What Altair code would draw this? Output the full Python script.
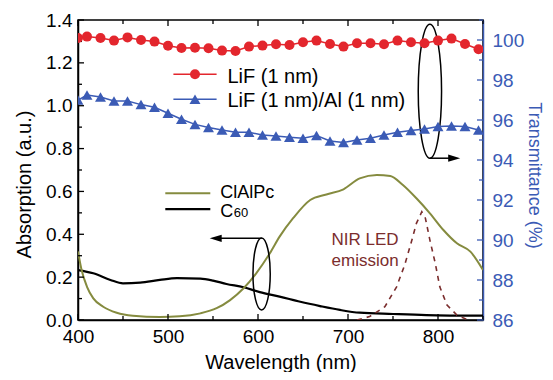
import altair as alt
import pandas as pd

FONT = "Liberation Sans"
RED = "#e3262d"
BLUE = "#3b5bb5"
OLIVE = "#858b3f"
NIRC = "#7b2d2d"

# ---- Transmittance series (right axis, %) ----
t_nm = [400, 410, 425, 440, 455, 470, 485, 500, 515, 530, 545, 560, 575, 590, 605,
        620, 635, 650, 665, 680, 695, 710, 725, 740, 755, 770, 785, 800, 815, 830, 845]
lif_T = [100.10, 100.17, 100.10, 99.97, 100.13, 100.00, 99.92, 99.71, 99.60, 99.61, 99.59,
         99.47, 99.45, 99.67, 99.72, 99.79, 99.75, 99.89, 99.97, 99.80, 99.67, 99.84, 99.84,
         99.79, 99.97, 99.89, 99.84, 99.97, 100.07, 99.80, 99.54]
lifal_T = [97.00, 97.25, 97.15, 96.95, 96.95, 96.77, 96.64, 96.34, 96.04, 95.78, 95.62,
           95.50, 95.39, 95.39, 95.25, 95.20, 95.14, 95.09, 95.22, 94.95, 94.87, 95.00, 95.09,
           95.25, 95.39, 95.47, 95.55, 95.67, 95.70, 95.67, 95.50]

# ---- Absorption series (left axis) ----
clalpc_nm = [400, 404, 410, 417, 428, 443, 461, 491, 513, 536, 554, 569, 584, 598, 613,
             624, 639, 658, 676, 695, 713, 732, 747, 761, 776, 791, 806, 821, 836, 850]
clalpc_A = [0.32, 0.233, 0.155, 0.101, 0.062, 0.034, 0.020, 0.014, 0.017, 0.031, 0.055,
            0.093, 0.148, 0.218, 0.31, 0.389, 0.475, 0.56, 0.586, 0.61, 0.661, 0.677, 0.672,
            0.63, 0.568, 0.498, 0.42, 0.358, 0.319, 0.233]
c60_nm = [400, 417, 436, 450, 469, 491, 510, 536, 550, 565, 584, 602, 624, 647, 669, 691,
          713, 750, 787, 850]
c60_A = [0.233, 0.218, 0.187, 0.171, 0.174, 0.187, 0.195, 0.193, 0.184, 0.168, 0.153, 0.13,
         0.109, 0.085, 0.065, 0.047, 0.034, 0.028, 0.023, 0.020]
nir_nm = [710, 724, 741, 754, 763, 771, 776, 782, 786, 791, 797, 802, 810, 821, 832]
nir_A = [0.0, 0.016, 0.062, 0.155, 0.257, 0.373, 0.451, 0.505, 0.475, 0.373, 0.264, 0.155,
         0.07, 0.023, 0.003]

# ---- tick values ----
x_major = [400, 500, 600, 700, 800]
x_minor = [450, 550, 650, 750, 850]
yl_major = [0.0, 0.2, 0.4, 0.6, 0.8, 1.0, 1.2, 1.4]
yl_minor = [0.1, 0.3, 0.5, 0.7, 0.9, 1.1, 1.3]
yr_major = [86, 88, 90, 92, 94, 96, 98, 100]
yr_minor = [87, 89, 91, 93, 95, 97, 99, 101]

# ---- legend / annotation anchors (data units) ----
leg1_labels = ["LiF (1 nm)", "LiF (1 nm)/Al (1 nm)"]
leg1_line_nm = [506, 554]
leg1_mark_nm = 530
leg1_line_A = [1.1466, 1.030]
leg1_text_nm = 566
leg1_text_A = [1.1045, 0.9955]
leg2_line_nm = [497, 547]
leg2_line_A = [0.591, 0.517]
leg2_text_nm = 558
leg2_text_A = 0.570
c60_text_A = 0.480
c60_sub_nm = 573
nir_label = ["NIR LED", "emission"]
nir_label_nm = 719
nir_label_A = [0.35, 0.252]
ell_nm = [791, 604]
ell_A = [1.068, 0.215]
arrow_from_nm = [791, 604]
arrow_to_nm = [818, 553]
arrow_A = [0.755, 0.381]

XS = alt.Scale(domain=[400, 850], nice=False)
YL = alt.Scale(domain=[0, 1.4], nice=False)
YR = alt.Scale(domain=[86, 101], nice=False)

X_AXIS = alt.Axis(values=x_major, ticks=False, grid=False, labelFlush=False,
                  labelFont=FONT, labelFontSize=19, labelColor="black", labelPadding=7,
                  domainColor="black", domainWidth=1.5,
                  title="Wavelength (nm)", titleFont=FONT, titleFontSize=20,
                  titleFontWeight="normal", titleColor="black", titleY=48,
                  titleBaseline="alphabetic")
YL_AXIS = alt.Axis(values=yl_major, format=".1f", ticks=False, grid=False,
                   labelFont=FONT, labelFontSize=19, labelColor="black", labelPadding=6,
                   domainColor="black", domainWidth=1.5,
                   title="Absorption (a.u.)", titleFont=FONT, titleFontSize=20,
                   titleFontWeight="normal", titleColor="black", titleX=-54, titleY=164,
                   titleBaseline="middle", titleAngle=270)
YR_AXIS = alt.Axis(values=yr_major, format="d", ticks=False, grid=False,
                   orient="right",
                   labelFont=FONT, labelFontSize=19, labelColor=BLUE, labelPadding=9,
                   domainColor=BLUE, domainWidth=1.5,
                   title="Transmittance (%)", titleFont=FONT, titleFontSize=18,
                   titleFontWeight="normal", titleColor=BLUE, titleX=50, titleY=155,
                   titleBaseline="middle", titleAngle=90)


def xe(field="nm"):
    return alt.X(f"{field}:Q", scale=XS, axis=X_AXIS)


def yl(field="A"):
    return alt.Y(f"{field}:Q", scale=YL, axis=YL_AXIS)


def yr(field="T"):
    return alt.Y(f"{field}:Q", scale=YR, axis=YR_AXIS)


df_c60 = pd.DataFrame({"nm": c60_nm, "A": c60_A})
df_cl = pd.DataFrame({"nm": clalpc_nm, "A": clalpc_A})
df_nir = pd.DataFrame({"nm": nir_nm, "A": nir_A})
df_lif = pd.DataFrame({"nm": t_nm, "T": lif_T})
df_lifal = pd.DataFrame({"nm": t_nm, "T": lifal_T})

c60_line = alt.Chart(df_c60).mark_line(color="black", strokeWidth=2.2, interpolate="monotone",
                                       clip=True).encode(x=xe(), y=yl())
cl_line = alt.Chart(df_cl).mark_line(color=OLIVE, strokeWidth=2, interpolate="monotone",
                                     clip=True).encode(x=xe(), y=yl())
nir_line = alt.Chart(df_nir).mark_line(color=NIRC, strokeWidth=1.6, strokeDash=[5, 5],
                                       clip=True).encode(x=xe(), y=yl())

# ticks (inward)
df_xmaj = pd.DataFrame({"nm": x_major})
df_xmin = pd.DataFrame({"nm": x_minor})
xt = []
for d, ln in [(df_xmaj, 6), (df_xmin, 4)]:
    xt.append(alt.Chart(d).mark_rule(color="black", strokeWidth=1.3).encode(
        x=xe(), y=alt.value(300), y2=alt.value(300 - ln)))
    xt.append(alt.Chart(d).mark_rule(color="black", strokeWidth=1.3).encode(
        x=xe(), y=alt.value(0), y2=alt.value(ln)))
ylt = []
for vals, ln in [(yl_major, 6), (yl_minor, 4)]:
    ylt.append(alt.Chart(pd.DataFrame({"A": vals})).mark_rule(color="black", strokeWidth=1.3).encode(
        y=yl(), x=alt.value(0), x2=alt.value(ln)))
yrt = []
for vals, ln in [(yr_major, 6), (yr_minor, 4)]:
    yrt.append(alt.Chart(pd.DataFrame({"T": vals})).mark_rule(color=BLUE, strokeWidth=1.3).encode(
        y=yr(), x=alt.value(405), x2=alt.value(405 - ln)))

# legend 1 (transmittance)
df_leg1 = pd.DataFrame({"nm": [leg1_line_nm[0]] * 2, "nm2": [leg1_line_nm[1]] * 2,
                        "A": leg1_line_A})
leg1_red_rule = alt.Chart(df_leg1.iloc[[0]]).mark_rule(color=RED, strokeWidth=1.5).encode(
    x=xe(), x2="nm2:Q", y=yl())
leg1_blue_rule = alt.Chart(df_leg1.iloc[[1]]).mark_rule(color=BLUE, strokeWidth=1.5).encode(
    x=xe(), x2="nm2:Q", y=yl())
df_leg1m = pd.DataFrame({"nm": [leg1_mark_nm] * 2, "A": leg1_line_A})
leg1_red_pt = alt.Chart(df_leg1m.iloc[[0]]).mark_point(shape="circle", filled=True, size=100,
                                                      color=RED, opacity=1).encode(x=xe(), y=yl())
leg1_blue_pt = alt.Chart(df_leg1m.iloc[[1]]).mark_point(shape="triangle-up", filled=True, size=120,
                                                       color=BLUE, opacity=1).encode(x=xe(), y=yl())
df_leg1t = pd.DataFrame({"nm": [leg1_text_nm] * 2, "A": leg1_text_A, "label": leg1_labels})
leg1_text = alt.Chart(df_leg1t).mark_text(font=FONT, fontSize=20, align="left",
                                          baseline="alphabetic", color="black").encode(
    x=xe(), y=yl(), text="label:N")

# legend 2 (absorption)
df_leg2 = pd.DataFrame({"nm": [leg2_line_nm[0]] * 2, "nm2": [leg2_line_nm[1]] * 2, "A": leg2_line_A})
leg2_olive = alt.Chart(df_leg2.iloc[[0]]).mark_rule(color=OLIVE, strokeWidth=2).encode(
    x=xe(), x2="nm2:Q", y=yl())
leg2_black = alt.Chart(df_leg2.iloc[[1]]).mark_rule(color="black", strokeWidth=2.2).encode(
    x=xe(), x2="nm2:Q", y=yl())
df_leg2t = pd.DataFrame({"nm": [leg2_text_nm, leg2_text_nm], "A": [leg2_text_A, c60_text_A],
                         "label": ["ClAlPc", "C"]})
leg2_text = alt.Chart(df_leg2t).mark_text(font=FONT, fontSize=18, align="left",
                                          baseline="alphabetic", color="black").encode(
    x=xe(), y=yl(), text="label:N")
df_sub = pd.DataFrame({"nm": [c60_sub_nm], "A": [c60_text_A], "label": ["60"]})
leg2_sub = alt.Chart(df_sub).mark_text(font=FONT, fontSize=13, align="left",
                                       baseline="alphabetic", color="black").encode(
    x=xe(), y=yl(), text="label:N")

# NIR label
df_nirt = pd.DataFrame({"nm": [nir_label_nm] * 2, "A": nir_label_A, "label": nir_label})
nir_text = alt.Chart(df_nirt).mark_text(font=FONT, fontSize=17, align="center",
                                        baseline="alphabetic", color=NIRC).encode(
    x=xe(), y=yl(), text="label:N")


def ellipse_path(rx):
    k = 0.5523
    a = round(rx * k, 4)
    return (f"M{rx},0 C{rx},{k} {a},1 0,1 C{-a},1 {-rx},{k} {-rx},0 "
            f"C{-rx},{-k} {-a},-1 0,-1 C{a},-1 {rx},{-k} {rx},0 Z")


ell1 = alt.Chart(pd.DataFrame({"nm": [ell_nm[0]], "A": [ell_A[0]]})).mark_point(
    shape=ellipse_path(0.174), size=134 * 134, filled=False, color="black", strokeWidth=1.5,
    opacity=1).encode(x=xe(), y=yl())
ell2 = alt.Chart(pd.DataFrame({"nm": [ell_nm[1]], "A": [ell_A[1]]})).mark_point(
    shape=ellipse_path(0.24), size=72 * 72, filled=False, color="black", strokeWidth=1.5,
    opacity=1).encode(x=xe(), y=yl())

df_arr = pd.DataFrame({"nm": arrow_from_nm, "nm2": arrow_to_nm, "A": arrow_A})
arr_lines = alt.Chart(df_arr).mark_rule(color="black", strokeWidth=1.5).encode(
    x=xe(), x2="nm2:Q", y=yl())
arr_head_r = alt.Chart(pd.DataFrame({"nm": [arrow_to_nm[0]], "A": [arrow_A[0]]})).mark_point(
    shape="M-1,-0.6L1,0L-1,0.6Z", size=144, filled=True, color="black", opacity=1).encode(
    x=xe(), y=yl())
arr_head_l = alt.Chart(pd.DataFrame({"nm": [arrow_to_nm[1]], "A": [arrow_A[1]]})).mark_point(
    shape="M1,-0.6L-1,0L1,0.6Z", size=144, filled=True, color="black", opacity=1).encode(
    x=xe(), y=yl())

left = alt.layer(c60_line, cl_line, nir_line, *xt, *ylt,
                 leg1_red_rule, leg1_blue_rule, leg1_red_pt, leg1_blue_pt, leg1_text,
                 leg2_olive, leg2_black, leg2_text, leg2_sub, nir_text,
                 ell1, ell2, arr_lines, arr_head_r, arr_head_l)

lif_line = alt.Chart(df_lif).mark_line(color=RED, strokeWidth=1.5, clip=True).encode(
    x=xe(), y=yr())
lif_pts = alt.Chart(df_lif).mark_point(shape="circle", filled=True, size=100, color=RED,
                                       opacity=1, clip=True).encode(x=xe(), y=yr())
lifal_line = alt.Chart(df_lifal).mark_line(color=BLUE, strokeWidth=1.5, clip=True).encode(
    x=xe(), y=yr())
lifal_pts = alt.Chart(df_lifal).mark_point(shape="triangle-up", filled=True, size=120,
                                           color=BLUE, opacity=1, clip=True).encode(x=xe(), y=yr())

right = alt.layer(lif_line, lif_pts, lifal_line, lifal_pts, *yrt)

chart = alt.layer(left, right).resolve_scale(y="independent").properties(
    width=405, height=300,
    autosize=alt.AutoSizeParams(type="none"),
    padding={"left": 70, "top": 12, "right": 62, "bottom": 52},
    background="white",
).configure_view(stroke="black", strokeWidth=1.5)

chart.save("out.html", embed_options={"renderer": "svg", "actions": False})
